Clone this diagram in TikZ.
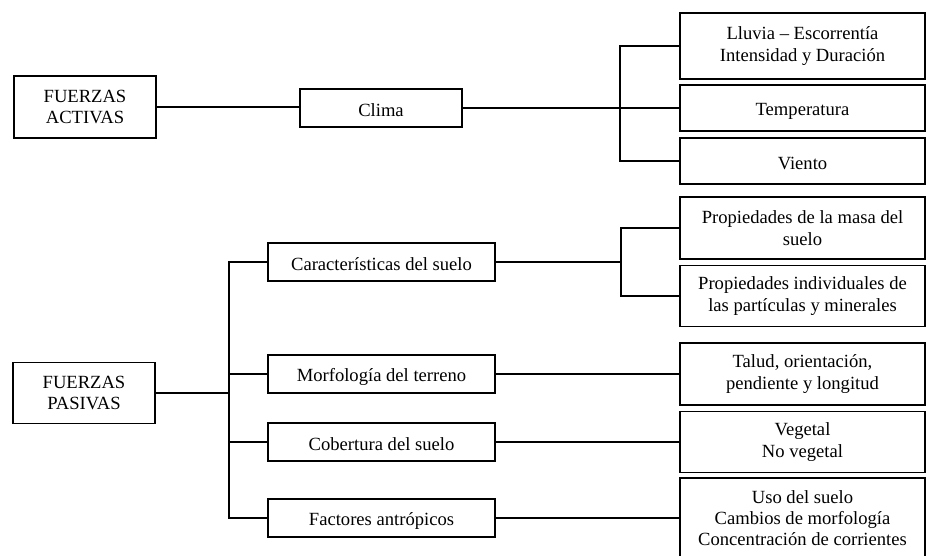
\documentclass[tikz,border=0pt]{standalone}
\usepackage{fontspec}
\setmainfont{Liberation Serif}
\begin{document}
\begin{tikzpicture}[x=1pt,y=-1pt,
  box/.style={draw=black, line width=1.6pt, rectangle, inner sep=0pt, align=center,
    font=\fontsize{18.6}{21.3}\selectfont,
    execute at begin node={\rule{0pt}{18pt}}},
  root/.style={box, minimum width=142pt, minimum height=62pt},
  mid/.style={box, minimum width=227pt, minimum height=38pt},
  leaf/.style={box, minimum width=245pt},
  link/.style={draw=black, line width=1.5pt}]
\useasboundingbox (0,0) rectangle (926,555);
\fill[white] (0,0) rectangle (926,555);

% active forces
\node[root] (fa) at (85,107) {FUERZAS\\ACTIVAS};
\node[box, minimum width=162pt, minimum height=38pt] (clima) at (381,108) {Clima};
\node[leaf, minimum height=66pt] (lluvia) at (802.5,46) {Lluvia -- Escorrentía\\Intensidad y Duración};
\node[leaf, minimum height=46pt] (temp) at (802.5,108) {Temperatura};
\node[leaf, minimum height=46pt] (viento) at (802.5,161) {Viento};
\coordinate (j1) at (620,108);

\draw[link] (fa.east) -- (fa.east -| clima.west);
\draw[link] (clima.east) -- (clima.east -| temp.west);
\draw[link] (lluvia.west) -| (j1);
\draw[link] (viento.west) -| (j1);

% passive forces
\node[root, minimum height=61pt] (fp) at (84,393) {FUERZAS\\PASIVAS};
\node[mid] (car) at (381.5,262) {Características del suelo};
\node[mid] (mor) at (381.5,374) {Morfología del terreno};
\node[mid] (cob) at (381.5,442) {Cobertura del suelo};
\node[mid] (fac) at (381.5,518) {Factores antrópicos};
\coordinate (j2) at (229,393);

\node[leaf, minimum height=62pt] (pm) at (802.5,228) {Propiedades de la masa del\\suelo};
\node[leaf, minimum height=61pt] (pi) at (802.5,296) {Propiedades individuales de\\las partículas y minerales};
\node[leaf, minimum height=62pt] (talud) at (802.5,374) {Talud, orientación,\\pendiente y longitud};
\node[leaf, minimum height=61pt] (veg) at (802.5,442) {Vegetal\\No vegetal};
\node[leaf, minimum height=80pt] (uso) at (802.5,518) {Uso del suelo\\Cambios de morfología\\Concentración de corrientes};
\coordinate (j3) at (621,262);

\draw[link] (fp.east) -- (j2);
\draw[link] (car.west) -| (j2);
\draw[link] (fac.west) -| (j2);
\draw[link] (mor.west) -- (mor.west -| j2);
\draw[link] (cob.west) -- (cob.west -| j2);

\draw[link] (car.east) -- (j3);
\draw[link] (pm.west) -| (j3);
\draw[link] (pi.west) -| (j3);
\draw[link] (mor.east) -- (mor.east -| talud.west);
\draw[link] (cob.east) -- (cob.east -| veg.west);
\draw[link] (fac.east) -- (fac.east -| uso.west);
\end{tikzpicture}
\end{document}
